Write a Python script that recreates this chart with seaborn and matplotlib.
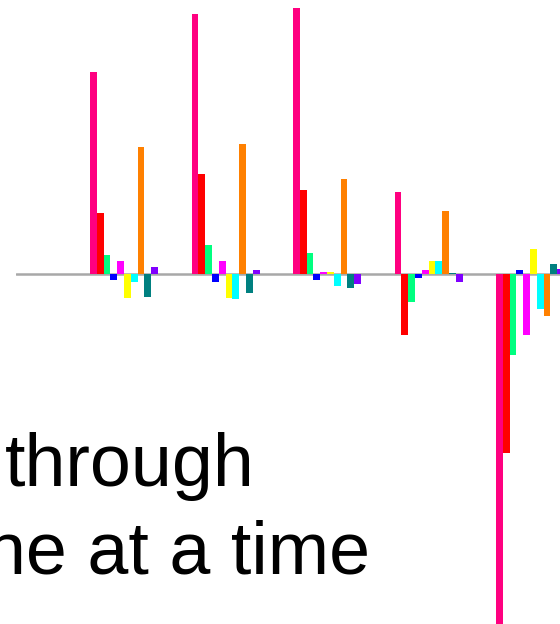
import pandas as pd
import matplotlib.pyplot as plt
import seaborn as sns

groups = ["1", "2", "3", "4", "5"]
series = ["s1", "s2", "s3", "s4", "s5", "s6", "s7", "s8", "s9", "s10"]
colors = ["#FF0080", "#FF0000", "#00FF80", "#0000FF", "#FF00FF",
          "#FFFF00", "#00FFFF", "#FF8000", "#008080", "#8000FF"]

# one list per series, one value per group
s1 = [202, 260, 266, 82, -355]
s2 = [61, 100, 84, -62, -180]
s3 = [19, 29, 21, -28, -82]
s4 = [-6, -8, -6, -4, 4]
s5 = [13, 13, 2, 4, -62]
s6 = [-24, -24, 2, 13, 25]
s7 = [-8, -25, -12, 13, -35]
s8 = [127, 130, 95, 63, -43]
s9 = [-23, -19, -14, 1, 10]
s10 = [7, 4, -10, -8, 5]

values = [s1, s2, s3, s4, s5, s6, s7, s8, s9, s10]
rows = []
for name, vals in zip(series, values):
    for g, v in zip(groups, vals):
        rows.append({"group": g, "series": name, "value": v})
df = pd.DataFrame(rows)

sns.set_style("white")
plt.rcParams["font.family"] = ["Liberation Sans", "DejaVu Sans"]

fig = plt.figure(figsize=(5.6, 6.24), dpi=100)
ax = fig.add_axes([16 / 560, 0, 1 - 16 / 560, 1])

sns.barplot(data=df, x="group", y="value", hue="series", hue_order=series,
            palette=dict(zip(series, colors)), width=0.67, saturation=1,
            errorbar=None, legend=False, linewidth=0, ax=ax)

ax.axhline(0, color="#A8A8A8", lw=1.8, zorder=0)
ax.set_xlim(-1.064, 4.295)
ax.set_ylim(-351, 274)
ax.axis("off")

fig.text(5 / 560, 1 - 486 / 624, "through", fontsize=53, color="black",
         ha="left", va="baseline")
# the start of this line runs off the left edge, as in the reference
fig.text(370 / 560, 1 - 573 / 624, "one at a time", fontsize=53, color="black",
         ha="right", va="baseline")

fig.savefig("out.png", dpi=100)
